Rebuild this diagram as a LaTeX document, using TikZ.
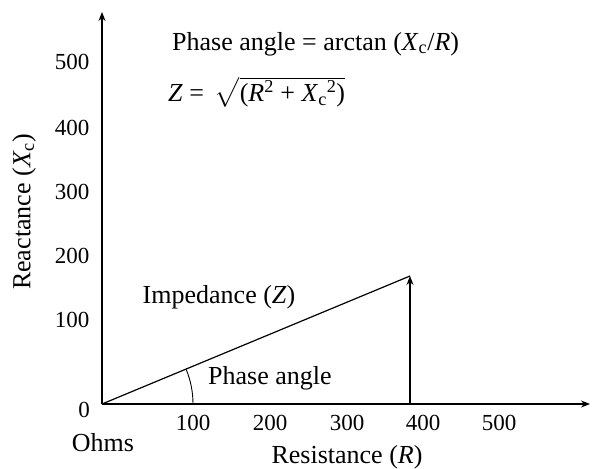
\documentclass[tikz,border=0pt]{standalone}
\usepackage{amsmath}
\usepackage{fontspec}
\setmainfont{Liberation Serif}
\usetikzlibrary{arrows.meta}
\newcommand\vxc{\textit{X}\textsubscript{c}}
\begin{document}
\begin{tikzpicture}[x=1pt,y=-1pt,
  num/.style={font=\fontsize{23}{27}\selectfont, inner sep=0pt},
  lab/.style={font=\fontsize{26}{30}\selectfont, inner sep=0pt},
  axis/.style={line width=1.2pt, -{Stealth[length=9pt,width=7pt]}},
  vec/.style={line width=1.2pt}]
\useasboundingbox (0,0) rectangle (593,468);
\coordinate (O) at (102,404);
\coordinate (Ytop) at (102,12);
\coordinate (Xend) at (590,404);
\coordinate (P) at (410,276);
\coordinate (F) at (410,404);
\draw[axis] (O) -- (Ytop);
\draw[axis] (O) -- (Xend);
\draw[vec] (O) -- (P);
\draw[vec, -{Stealth[length=9pt,width=7pt]}] (F) -- (P);
\draw[line width=0.9pt] (193,404) arc[start angle=0, end angle=-22.4, radius=91];
% y tick labels
\node[num] (y500) at (72,62) {500};
\node[num] (y400) at (72,128) {400};
\node[num] (y300) at (72,192) {300};
\node[num] (y200) at (72,256) {200};
\node[num] (y100) at (72,320) {100};
\node[num] (y0) at (84,410) {0};
% x tick labels
\node[num] (x100) at (193,423) {100};
\node[num] (x200) at (270,423) {200};
\node[num] (x300) at (347,423) {300};
\node[num] (x400) at (423,423) {400};
\node[num] (x500) at (499,423) {500};
\node[lab] (ohms) at (103,443) {Ohms};
\node[lab] (res) at (347,457) {Resistance (\textit{R})};
\node[lab, rotate=90] (reac) at (24,212) {Reactance (\vxc)};
\node[lab] (imp) at (219,297) {Impedance (\textit{Z})};
\node[lab, anchor=west] (pa) at (208,378) {Phase angle};
\node[lab, anchor=west] (f1) at (172,44) {Phase angle = arctan (\vxc/\textit{R})};
\node[lab, anchor=west] (f2) at (168,92) {\textit{Z} =\, $\sqrt{\text{(\textit{R}\textsuperscript{2} + \vxc\textsuperscript{2})}}$};
\end{tikzpicture}
\end{document}
